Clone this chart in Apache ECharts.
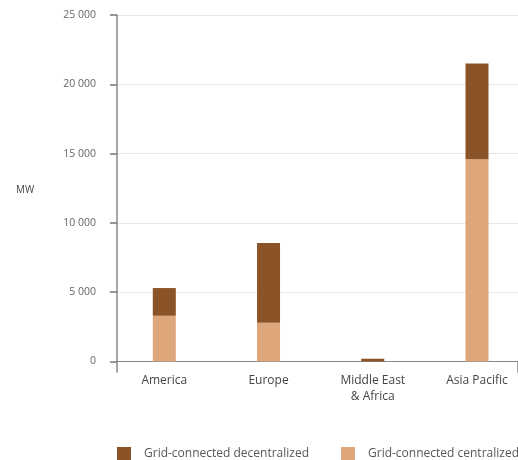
<!DOCTYPE html>
<html>
<head>
<meta charset="utf-8">
<script src="https://cdn.jsdelivr.net/npm/echarts@6/dist/echarts.min.js"></script>
<style>
  html, body { margin: 0; padding: 0; background: #fff; }
  #chart { width: 518px; height: 460px; }
</style>
</head>
<body>
<div id="chart"></div>
<script>
// Installed capacity by region (MW)
const regions = ['America', 'Europe', 'Middle East\n& Africa', 'Asia Pacific'];
const centralized = [3300, 2800, 0, 14600];
const decentralized = [2000, 5750, 200, 6900];
const seriesNames = ['Grid-connected decentralized', 'Grid-connected centralized'];
const yTicks = [0, 5000, 10000, 15000, 20000, 25000];

const FONT = '"Open Sans", sans-serif';
const DARK = '#8b5428';
const LIGHT = '#dea67b';
const Y_MIN = yTicks[0];
const Y_MAX = yTicks[yTicks.length - 1];

const chart = echarts.init(document.getElementById('chart'), null, { renderer: 'canvas' });

// one legend block per series, laid out side by side
const legendBase = {
  top: 447,
  padding: 0,
  itemWidth: 14,
  itemHeight: 13,
  icon: 'rect',
  textStyle: { fontFamily: FONT, fontSize: 12, color: '#555', padding: [0, 0, 0, 8] }
};

chart.setOption({
  animation: false,
  backgroundColor: '#ffffff',
  textStyle: { fontFamily: FONT },
  title: {
    text: 'MW',
    left: 11,
    top: 180,
    textStyle: { fontFamily: FONT, fontSize: 10, fontWeight: 'normal', color: '#444' }
  },
  legend: [
    Object.assign({}, legendBase, { data: [seriesNames[0]], left: 117 }),
    Object.assign({}, legendBase, { data: [seriesNames[1]], left: 341 })
  ],
  // grid 0 carries the frame (value axis, gridlines, baseline); grid 1 places the bars
  grid: [
    { left: 117, right: 0, top: 15, bottom: 98.5 },
    { left: 164.3, right: 41, top: 15, bottom: 98.5 }
  ],
  xAxis: [
    {
      gridIndex: 0,
      type: 'category',
      data: regions,
      axisLine: { lineStyle: { color: '#888', width: 1 } },
      axisTick: {
        show: true, length: 11, interval: (i) => i === 0,
        lineStyle: { color: '#888', width: 1.5 }
      },
      axisLabel: { show: false }
    },
    {
      gridIndex: 1,
      type: 'category',
      data: regions,
      boundaryGap: false,
      axisLine: { show: false },
      axisTick: { show: false },
      axisLabel: { fontFamily: FONT, fontSize: 12, color: '#444', margin: 11, lineHeight: 16 }
    }
  ],
  yAxis: [
    {
      gridIndex: 0,
      type: 'value',
      min: Y_MIN,
      max: Y_MAX,
      interval: 5000,
      axisLine: { show: true, lineStyle: { color: '#888', width: 1.5 } },
      axisTick: { show: true, length: 7, lineStyle: { color: '#777', width: 1.5 } },
      splitLine: { lineStyle: { color: '#e6e6e6', width: 1 } },
      axisLabel: {
        fontFamily: FONT, fontSize: 10.5, color: '#666', margin: 21,
        formatter: v => String(v).replace(/\B(?=(\d{3})+(?!\d))/g, ' ')
      }
    },
    {
      gridIndex: 1,
      type: 'value',
      min: Y_MIN,
      max: Y_MAX,
      interval: 5000,
      show: false,
      splitLine: { show: false }
    }
  ],
  series: [
    {
      name: seriesNames[1],
      type: 'bar',
      stack: 'total',
      xAxisIndex: 1,
      yAxisIndex: 1,
      data: centralized,
      barWidth: 23,
      itemStyle: { color: LIGHT }
    },
    {
      name: seriesNames[0],
      type: 'bar',
      stack: 'total',
      xAxisIndex: 1,
      yAxisIndex: 1,
      data: decentralized,
      barWidth: 23,
      itemStyle: { color: DARK }
    }
  ]
});
</script>
</body>
</html>
